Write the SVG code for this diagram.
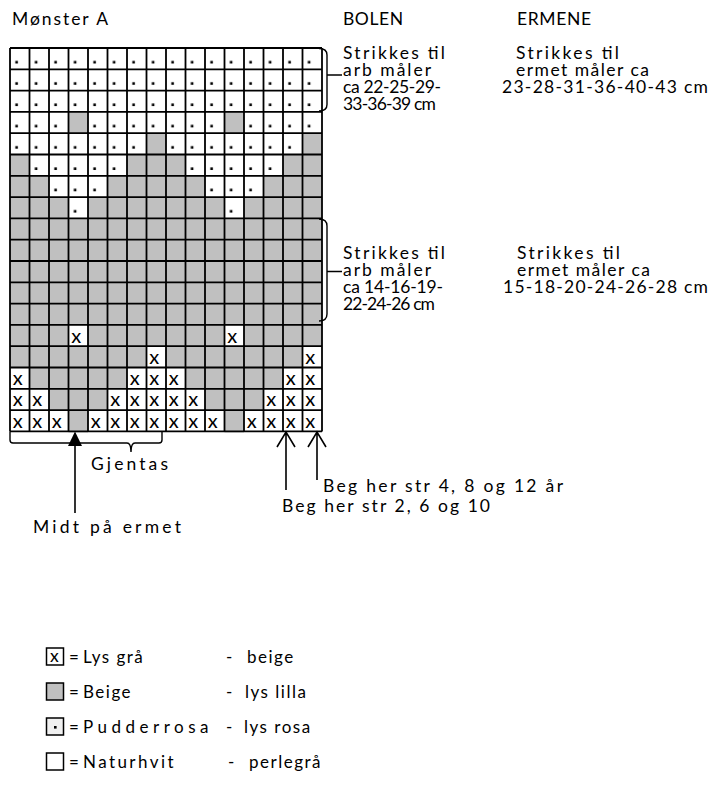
<svg xmlns="http://www.w3.org/2000/svg" width="713" height="791" viewBox="0 0 713 791">
<defs>
<style>
.t{font-family:Lato,'Open Sans','Liberation Sans',sans-serif;font-size:17.5px;fill:#000}
.lg{font-family:Lato,'Open Sans','Liberation Sans',sans-serif;font-size:17px;fill:#000;letter-spacing:1.5px}
.xs{font-family:Lato,'Open Sans','Liberation Sans',sans-serif;font-size:20px;fill:#000}
.g{fill:#c0c0c0}
.grid{stroke:#000;stroke-width:1.8;fill:none}
.ln{stroke:#000;stroke-width:1.4;fill:none}
.ar{stroke:#000;stroke-width:1.6;fill:none}
.box{stroke:#000;stroke-width:1.5}
</style>
<pattern id="dots" patternUnits="userSpaceOnUse" x="10" y="48" width="19.5" height="21.3">
<rect x="5.3" y="12.9" width="2.6" height="2.6" fill="#000"/>
</pattern>
</defs>
<rect width="713" height="791" fill="#fff"/>

<g id="titles">
<text class="t" x="12" y="25" textLength="96">Mønster A</text>
<text class="t" x="343" y="25" textLength="60">BOLEN</text>
<text class="t" x="517" y="25" textLength="74">ERMENE</text>
</g>

<g id="chart">
<rect x="10" y="48" width="312" height="383.4" fill="#fff"/>
<g class="g">
<rect x="68.5" y="111.9" width="19.5" height="21.3"/><rect x="224.5" y="111.9" width="19.5" height="21.3"/>
<rect x="146.5" y="133.2" width="19.5" height="21.3"/><rect x="302.5" y="133.2" width="19.5" height="21.3"/>
<rect x="10" y="154.5" width="19.5" height="21.3"/><rect x="127" y="154.5" width="58.5" height="21.3"/><rect x="283" y="154.5" width="39" height="21.3"/>
<rect x="10" y="175.8" width="39" height="21.3"/><rect x="107.5" y="175.8" width="97.5" height="21.3"/><rect x="263.5" y="175.8" width="58.5" height="21.3"/>
<rect x="10" y="197.1" width="58.5" height="21.3"/><rect x="88" y="197.1" width="136.5" height="21.3"/><rect x="244" y="197.1" width="78" height="21.3"/>
<rect x="10" y="218.4" width="312" height="106.5"/>
<rect x="10" y="324.9" width="58.5" height="21.3"/><rect x="88" y="324.9" width="136.5" height="21.3"/><rect x="244" y="324.9" width="78" height="21.3"/>
<rect x="10" y="346.2" width="136.5" height="21.3"/><rect x="166" y="346.2" width="136.5" height="21.3"/>
<rect x="29.5" y="367.5" width="97.5" height="21.3"/><rect x="185.5" y="367.5" width="97.5" height="21.3"/>
<rect x="49" y="388.8" width="58.5" height="21.3"/><rect x="205" y="388.8" width="58.5" height="21.3"/>
<rect x="68.5" y="410.1" width="19.5" height="22.4"/><rect x="224.5" y="410.1" width="19.5" height="22.4"/>
</g>
<g fill="url(#dots)">
<rect x="10" y="48" width="312" height="63.9"/>
<rect x="10" y="111.9" width="58.5" height="21.3"/><rect x="88" y="111.9" width="136.5" height="21.3"/><rect x="244" y="111.9" width="78" height="21.3"/>
<rect x="10" y="133.2" width="136.5" height="21.3"/><rect x="166" y="133.2" width="136.5" height="21.3"/>
<rect x="29.5" y="154.5" width="97.5" height="21.3"/><rect x="185.5" y="154.5" width="97.5" height="21.3"/>
<rect x="49" y="175.8" width="58.5" height="21.3"/><rect x="205" y="175.8" width="58.5" height="21.3"/>
<rect x="68.5" y="197.1" width="19.5" height="21.3"/><rect x="224.5" y="197.1" width="19.5" height="21.3"/>
</g>
<path class="grid" d="M10,48V431.4M29.5,48V431.4M49,48V431.4M68.5,48V431.4M88,48V431.4M107.5,48V431.4M127,48V431.4M146.5,48V431.4M166,48V431.4M185.5,48V431.4M205,48V431.4M224.5,48V431.4M244,48V431.4M263.5,48V431.4M283,48V431.4M302.5,48V431.4M322,48V431.4
M10,48H322M10,69.3H322M10,90.6H322M10,111.9H322M10,133.2H322M10,154.5H322M10,175.8H322M10,197.1H322M10,218.4H322M10,239.7H322M10,261H322M10,282.3H322M10,303.6H322M10,324.9H322M10,346.2H322M10,367.5H322M10,388.8H322M10,410.1H322M10,431.4H322"/>
<text class="xs" x="71.3 227.3" y="342.5">xx</text>
<text class="xs" x="149.3 305.3" y="363.8">xx</text>
<text class="xs" x="12.8 129.8 149.3 168.8 285.8 305.3" y="385.1">xxxxxx</text>
<text class="xs" x="12.8 32.3 110.3 129.8 149.3 168.8 188.3 266.3 285.8 305.3" y="406.4">xxxxxxxxxx</text>
<text class="xs" x="12.8 32.3 51.8 90.8 110.3 129.8 149.3 168.8 188.3 207.8 246.8 266.3 285.8 305.3" y="427.7">xxxxxxxxxxxxxx</text>
</g>

<g id="note-top">
<text class="t" x="343" y="59" textLength="102">Strikkes til</text>
<text class="t" x="343" y="76" textLength="88">arb måler</text>
<text class="t" x="343" y="93" textLength="98">ca 22-25-29-</text>
<text class="t" x="343" y="110" textLength="93">33-36-39 cm</text>
<text class="t" x="516" y="59" textLength="103">Strikkes til</text>
<text class="t" x="516" y="76" textLength="133">ermet måler ca</text>
<text class="t" x="502" y="93" textLength="206">23-28-31-36-40-43 cm</text>
</g>

<g id="note-mid">
<text class="t" x="343" y="259" textLength="102">Strikkes til</text>
<text class="t" x="343" y="276" textLength="88">arb måler</text>
<text class="t" x="343" y="293" textLength="100">ca 14-16-19-</text>
<text class="t" x="343" y="310" textLength="92">22-24-26 cm</text>
<text class="t" x="517" y="259" textLength="103">Strikkes til</text>
<text class="t" x="517" y="276" textLength="133">ermet måler ca</text>
<text class="t" x="503" y="293" textLength="205">15-18-20-24-26-28 cm</text>
</g>

<g id="labels-bottom">
<text class="t" x="91" y="470" textLength="77">Gjentas</text>
<text class="t" x="33" y="533" textLength="148">Midt på ermet</text>
<text class="t" x="323" y="492" textLength="240">Beg her str 4, 8 og 12 år</text>
<text class="t" x="282" y="511.5" textLength="208">Beg her str 2, 6 og 10</text>
</g>

<g id="connectors">
<path class="ln" d="M319,48.5Q327,48.5 327,55V104.5Q327,111 319,111M327,75H342"/>
<path class="ln" d="M319,219Q327,219 327,226V314Q327,321 319,321M327,271.5H342"/>
<path class="ln" d="M10,431.4V440Q10,443 13,443H127Q131,443 131,452Q131,443 135,443H159Q162,443 162,440V431.4"/>
<path class="ar" stroke-width="2" d="M75,445V513"/>
<polygon points="75,431.5 68,446 82,446" fill="#000"/>
<path class="ar" d="M286,432V490M277,447L286,432L295,447"/>
<path class="ar" d="M317,432V480M308,447L317,432L326,447"/>
</g>

<g id="legend-lysgra">
<rect class="box" x="46.5" y="648" width="17" height="17" fill="#fff"/>
<text class="t" x="50" y="661.5" font-size="17">x</text>
<text class="lg" x="69" y="663">=</text>
<text class="lg" x="83" y="663">Lys grå</text>
<text class="lg" x="226" y="663">-</text>
<text class="lg" x="247" y="663">beige</text>
</g>
<g id="legend-beige">
<rect class="box" x="46.5" y="683" width="17" height="17" fill="#c0c0c0"/>
<text class="lg" x="69" y="698">=</text>
<text class="lg" x="83" y="698">Beige</text>
<text class="lg" x="226" y="698">-</text>
<text class="lg" x="245" y="698">lys lilla</text>
</g>
<g id="legend-pudderrosa">
<rect class="box" x="46.5" y="718" width="17" height="17" fill="#f0f0f0"/>
<rect x="54" y="726" width="2.6" height="2.6" fill="#000"/>
<text class="lg" x="69" y="733">=</text>
<text class="lg" x="83" y="733" textLength="127">Pudderrosa</text>
<text class="lg" x="226" y="733">-</text>
<text class="lg" x="244" y="733">lys rosa</text>
</g>
<g id="legend-naturhvit">
<rect class="box" x="46.5" y="753" width="17" height="17" fill="#fff" stroke-width="1.2"/>
<text class="lg" x="69" y="768">=</text>
<text class="lg" x="83" y="768" textLength="92">Naturhvit</text>
<text class="lg" x="228" y="768">-</text>
<text class="lg" x="249" y="768">perlegrå</text>
</g>
</svg>
